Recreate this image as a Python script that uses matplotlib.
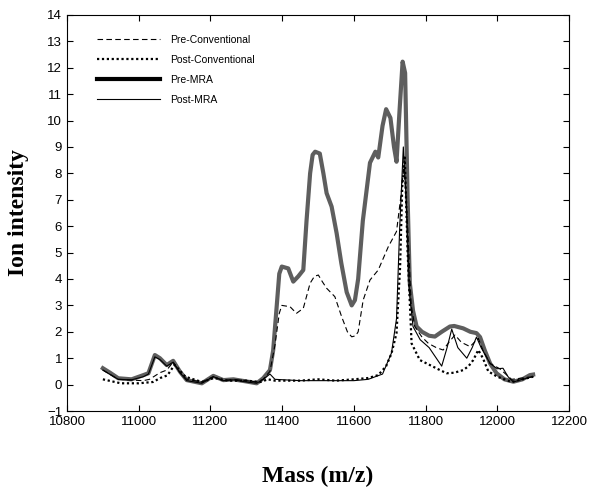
import matplotlib.pyplot as plt
from matplotlib.lines import Line2D

# values
pre_mra_x = [10900, 10920, 10943, 10980, 11013, 11027, 11045, 11059, 11078, 11096, 11115, 11134,
             11176, 11208, 11236, 11264, 11300, 11329, 11347, 11366, 11375, 11385, 11392, 11399,
             11417, 11431, 11445, 11459, 11468, 11478, 11485, 11492, 11505, 11515, 11524, 11538,
             11552, 11565, 11580, 11594, 11603, 11612, 11625, 11645, 11660, 11668, 11680, 11690,
             11702, 11712, 11719, 11728, 11736, 11743, 11750, 11756, 11765, 11775, 11790, 11810,
             11826, 11845, 11868, 11880, 11905, 11925, 11942, 11952, 11965, 11980, 11998, 12020,
             12045, 12070, 12091, 12100]
pre_mra_y = [0.62, 0.45, 0.24, 0.2, 0.36, 0.43, 1.12, 1.0, 0.74, 0.9, 0.49, 0.17,
             0.05, 0.33, 0.17, 0.2, 0.12, 0.05, 0.24, 0.55, 1.3, 3.0, 4.2, 4.47,
             4.4, 3.9, 4.1, 4.34, 6.2, 8.0, 8.7, 8.82, 8.75, 8.0, 7.25, 6.74,
             5.73, 4.6, 3.5, 3.0, 3.2, 4.0, 6.2, 8.4, 8.82, 8.6, 9.8, 10.43,
             10.1, 9.0, 8.44, 10.5, 12.23, 11.8, 7.0, 3.85, 2.8, 2.2, 2.0, 1.85,
             1.82, 2.0, 2.2, 2.22, 2.13, 2.0, 1.95, 1.8, 1.3, 0.8, 0.43, 0.2,
             0.11, 0.2, 0.36, 0.38]

pre_conv_x = [10900, 10943, 10980, 11013, 11030, 11059, 11078, 11096, 11115, 11134, 11176, 11208,
              11236, 11264, 11300, 11329, 11347, 11366, 11380, 11392, 11399, 11422, 11440, 11459,
              11478, 11490, 11501, 11512, 11524, 11547, 11566, 11582, 11594, 11605, 11612, 11626,
              11645, 11668, 11696, 11719, 11730, 11740, 11750, 11760, 11770, 11790, 11808, 11830,
              11849, 11865, 11882, 11900, 11924, 11947, 11960, 11980, 12007, 12040, 12070, 12100]
pre_conv_y = [0.55, 0.2, 0.17, 0.15, 0.2, 0.45, 0.55, 0.85, 0.45, 0.2, 0.1, 0.3,
              0.15, 0.2, 0.15, 0.1, 0.2, 0.5, 1.5, 2.7, 3.0, 2.95, 2.7, 2.89,
              3.84, 4.1, 4.15, 3.9, 3.65, 3.33, 2.57, 2.0, 1.81, 1.85, 2.0, 3.2,
              3.96, 4.34, 5.22, 5.8, 7.0, 8.3, 6.0, 3.0, 2.2, 1.8, 1.56, 1.4,
              1.31, 1.6, 1.88, 1.6, 1.44, 1.75, 1.3, 0.8, 0.6, 0.2, 0.25, 0.3]

post_conv_x = [10900, 10950, 11000, 11040, 11060, 11080, 11100, 11130, 11176, 11210, 11250, 11300,
               11340, 11360, 11380, 11450, 11500, 11550, 11600, 11640, 11668, 11690, 11705, 11719,
               11729, 11735, 11742, 11750, 11761, 11784, 11821, 11840, 11859, 11880, 11905, 11920,
               11933, 11947, 11960, 11975, 12000, 12040, 12070, 12100]
post_conv_y = [0.2, 0.05, 0.05, 0.1, 0.25, 0.35, 0.75, 0.3, 0.1, 0.25, 0.15, 0.15,
               0.1, 0.2, 0.15, 0.15, 0.2, 0.15, 0.2, 0.25, 0.36, 0.7, 1.18, 1.95,
               4.47, 7.5, 8.6, 5.0, 1.56, 0.93, 0.68, 0.55, 0.43, 0.45, 0.55, 0.7,
               0.93, 1.31, 1.0, 0.5, 0.3, 0.1, 0.2, 0.3]

post_mra_x = [10900, 10943, 10980, 11013, 11027, 11045, 11059, 11078, 11096, 11115, 11134, 11176,
              11208, 11236, 11264, 11300, 11329, 11347, 11366, 11380, 11450, 11500, 11550, 11600,
              11640, 11680, 11705, 11719, 11728, 11738, 11746, 11755, 11765, 11785, 11810, 11830,
              11845, 11860, 11873, 11890, 11915, 11930, 11942, 11955, 11980, 12000, 12016, 12030,
              12045, 12070, 12100]
post_mra_y = [0.55, 0.2, 0.18, 0.3, 0.4, 1.05, 0.95, 0.7, 0.85, 0.45, 0.15, 0.05,
              0.3, 0.15, 0.18, 0.1, 0.05, 0.2, 0.4, 0.2, 0.15, 0.15, 0.15, 0.15,
              0.2, 0.4, 1.2, 2.5, 6.0, 9.0, 7.0, 3.5, 2.2, 1.7, 1.4, 1.0,
              0.7, 1.4, 2.1, 1.4, 1.0, 1.4, 1.8, 1.4, 0.8, 0.6, 0.62, 0.3,
              0.1, 0.2, 0.3]

labels = ['Pre-Conventional', 'Post-Conventional', 'Pre-MRA', 'Post-MRA']

fig = plt.figure(figsize=(6, 4.97), dpi=100)
ax = fig.add_axes([0.1117, 0.173, 0.8366, 0.797])

ax.plot(pre_conv_x, pre_conv_y, color='black', lw=0.8, ls=(0, (5, 3)))
ax.plot(post_conv_x, post_conv_y, color='black', lw=1.6, ls=(0, (1, 1.2)))
ax.plot(post_mra_x, post_mra_y, color='black', lw=0.8)
ax.plot(pre_mra_x, pre_mra_y, color='#5e5e5e', lw=3.0, zorder=1, solid_joinstyle='round')

handles = [
    Line2D([], [], color='black', lw=0.8, ls=(0, (5, 3))),
    Line2D([], [], color='black', lw=1.6, ls=(0, (1, 1.2))),
    Line2D([], [], color='black', lw=3.0),
    Line2D([], [], color='black', lw=0.8),
]
ax.legend(handles, labels, loc='upper left', bbox_to_anchor=(0.06, 0.95), frameon=False,
          handlelength=6.0, handletextpad=1.0, labelspacing=0.97, borderpad=0,
          borderaxespad=0, prop={'family': 'Liberation Sans', 'size': 7.5})

ax.set_xlim(10800, 12200)
ax.set_ylim(-1, 14)
ax.set_xticks(range(10800, 12201, 200))
ax.set_yticks(range(-1, 15))
ax.tick_params(direction='in', top=True, right=True, length=4, width=0.8, labelsize=9.5)
for lab in ax.get_xticklabels() + ax.get_yticklabels():
    lab.set_family('Liberation Sans')
for s in ax.spines.values():
    s.set_linewidth(0.8)

ax.set_xlabel('Mass (m/z)', family='Liberation Serif', weight='bold', fontsize=17, labelpad=27)
ax.set_ylabel('Ion intensity', family='Liberation Serif', weight='bold', fontsize=17, labelpad=13)

fig.savefig('out.png', dpi=100)
